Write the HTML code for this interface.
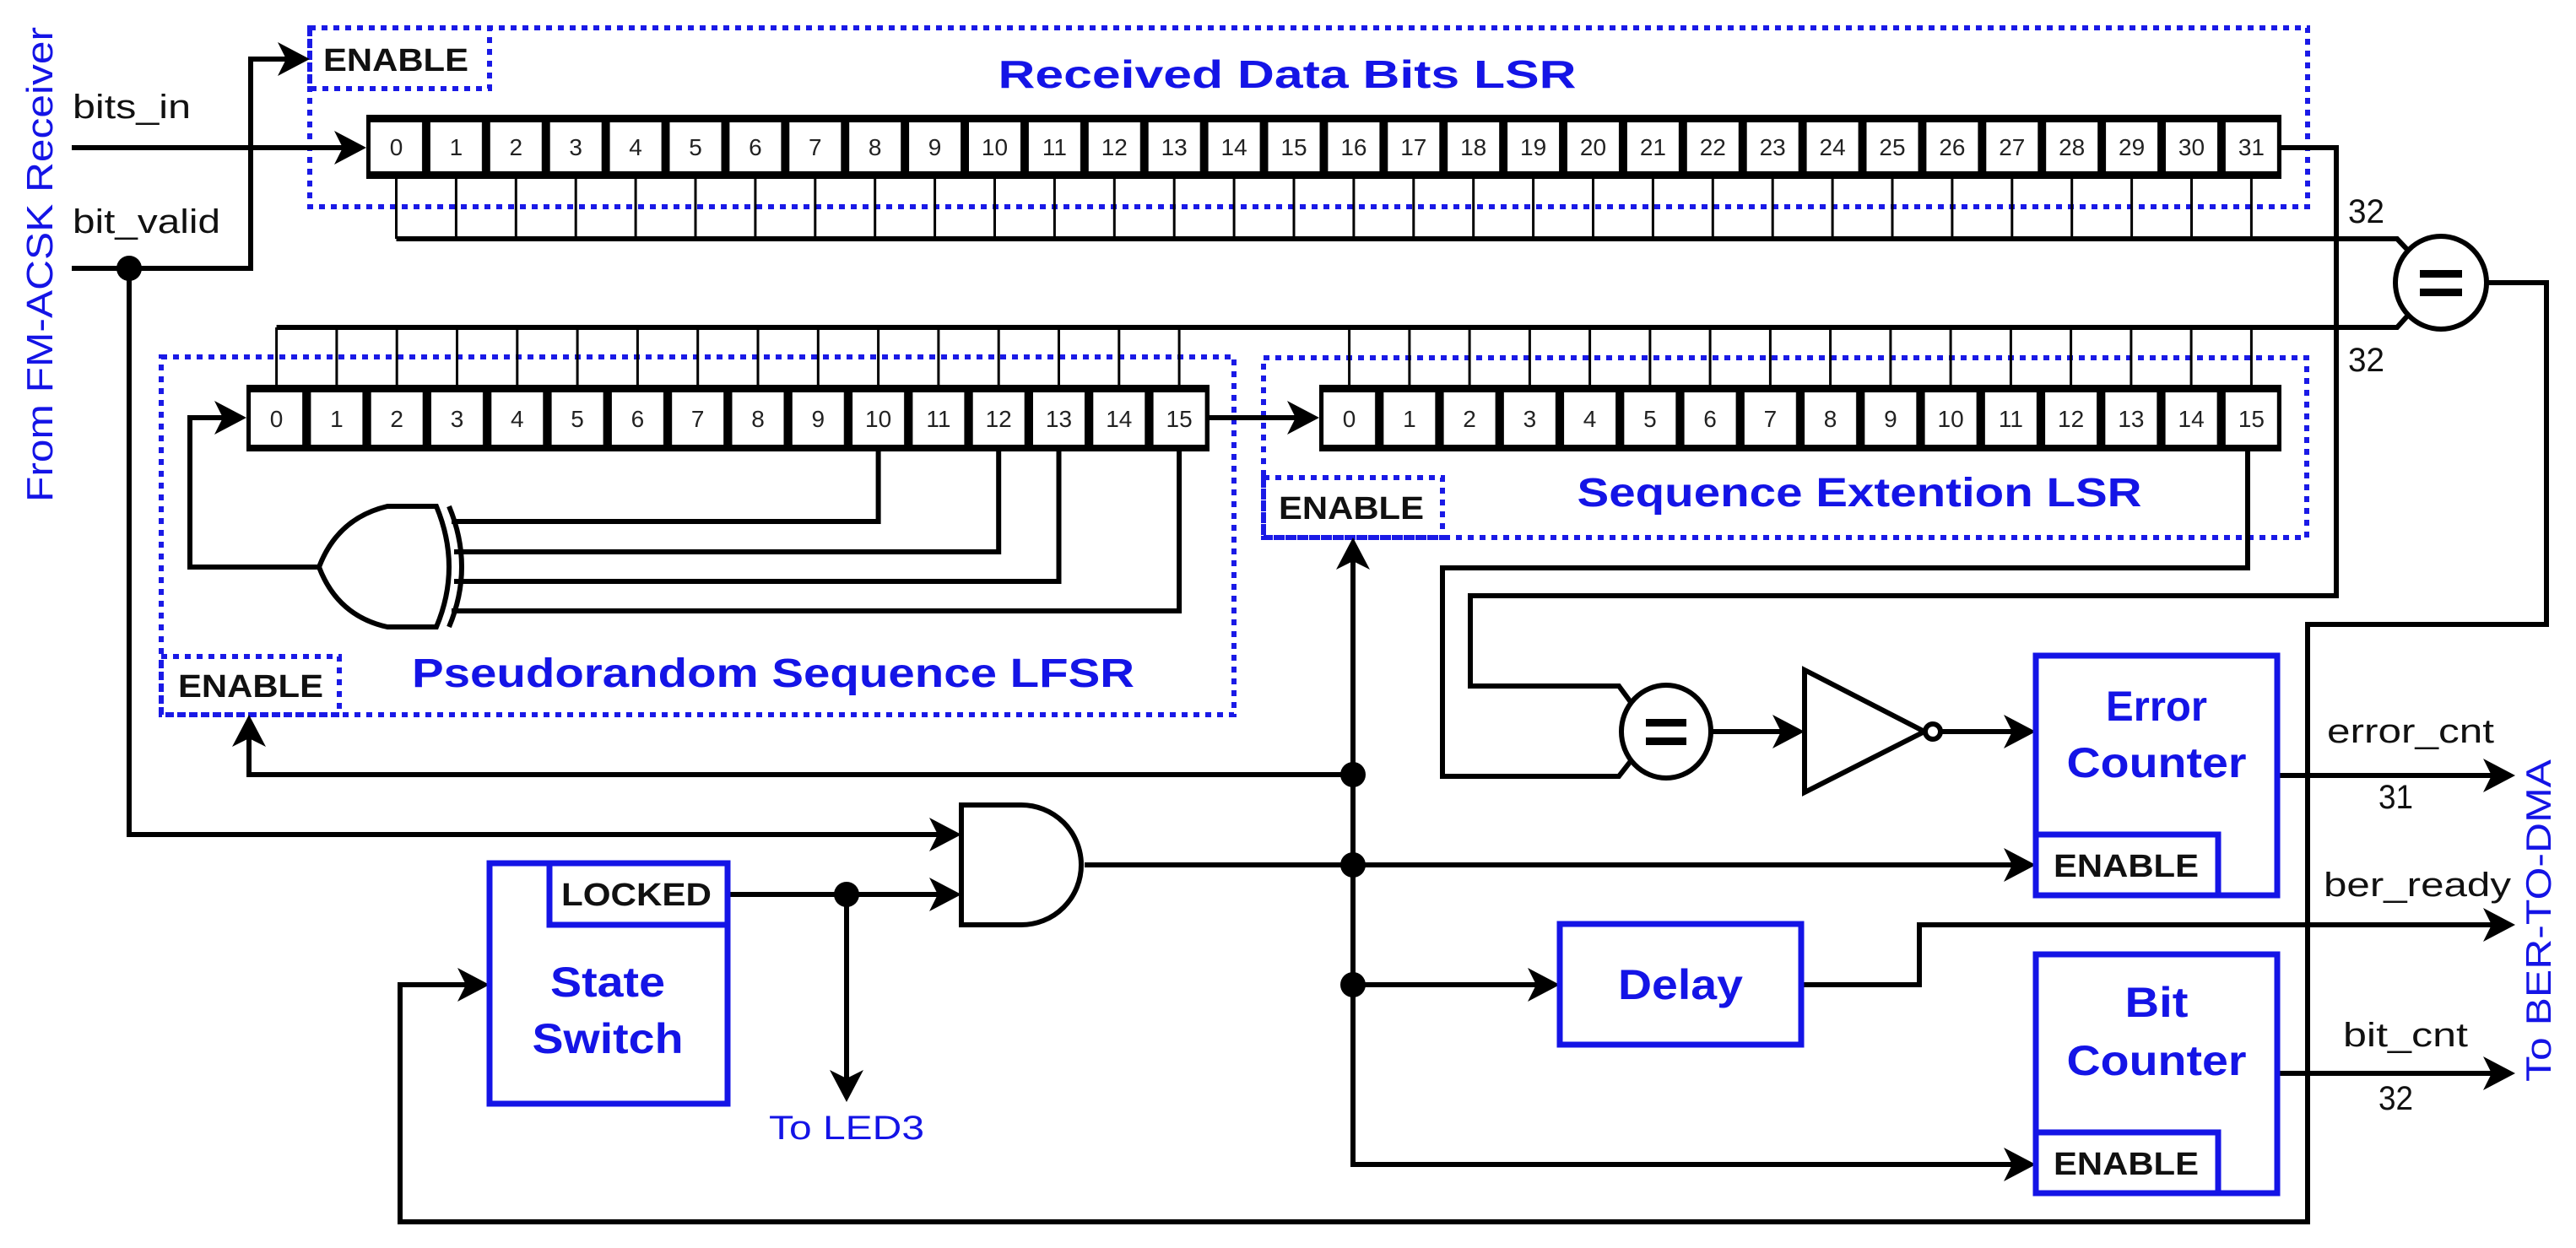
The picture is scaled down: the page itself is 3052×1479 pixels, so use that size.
<!DOCTYPE html>
<html><head><meta charset="utf-8"><style>html,body{margin:0;padding:0;background:#fff}svg{display:block}</style></head>
<body>
<svg xmlns="http://www.w3.org/2000/svg" width="3052" height="1479" viewBox="0 0 3052 1479" font-family="Liberation Sans, Arial, sans-serif">
<defs>
<pattern id="p1" patternUnits="userSpaceOnUse" x="439" y="0" width="70.9" height="1479"><rect x="0" y="0" width="61" height="1479" fill="#fff"/></pattern>
<pattern id="p2" patternUnits="userSpaceOnUse" x="297.1" y="0" width="71.3" height="1479"><rect x="0" y="0" width="61" height="1479" fill="#fff"/></pattern>
<pattern id="p3" patternUnits="userSpaceOnUse" x="1568.1" y="0" width="71.25" height="1479"><rect x="0" y="0" width="61" height="1479" fill="#fff"/></pattern>
</defs>
<rect width="3052" height="1479" fill="#fff"/>

<!-- dotted boxes -->
<g fill="none" stroke="#1a1ae6" stroke-width="6" stroke-dasharray="7 7">
<rect x="367" y="33" width="2367" height="212"/>
<rect x="367" y="33" width="213" height="72"/>
<rect x="191" y="423" width="1271" height="424"/>
<rect x="191" y="778" width="211" height="69"/>
<rect x="1497" y="424" width="1236" height="213"/>
<rect x="1497" y="566" width="212" height="71"/>
</g>

<!-- tap lines -->
<g stroke="#000" stroke-width="3" fill="none">
<path d="M469.5 212V283M540.4 212V283M611.3 212V283M682.2 212V283M753.1 212V283M824 212V283M894.9 212V283M965.8 212V283M1036.7 212V283M1107.6 212V283M1178.5 212V283M1249.4 212V283M1320.3 212V283M1391.2 212V283M1462.1 212V283M1533 212V283M1603.9 212V283M1674.8 212V283M1745.7 212V283M1816.6 212V283M1887.5 212V283M1958.4 212V283M2029.3 212V283M2100.2 212V283M2171.1 212V283M2242 212V283M2312.9 212V283M2383.8 212V283M2454.7 212V283M2525.6 212V283M2596.5 212V283M2667.4 212V283"/>
<path d="M327.6 388V456M398.9 388V456M470.2 388V456M541.5 388V456M612.8 388V456M684.1 388V456M755.4 388V456M826.7 388V456M898 388V456M969.3 388V456M1040.6 388V456M1111.9 388V456M1183.2 388V456M1254.5 388V456M1325.8 388V456M1397.1 388V456"/>
<path d="M1598.6 388V456M1669.9 388V456M1741.1 388V456M1812.4 388V456M1883.6 388V456M1954.9 388V456M2026.1 388V456M2097.4 388V456M2168.6 388V456M2239.9 388V456M2311.1 388V456M2382.4 388V456M2453.6 388V456M2524.9 388V456M2596.1 388V456M2667.4 388V456"/>
</g>

<!-- wires -->
<g stroke="#000" stroke-width="6" fill="none" stroke-linejoin="miter">
<path d="M469.5 283H2840L2858 302"/>
<path d="M327.6 388H2840L2858 368"/>
<path d="M85 175H410"/>
<path d="M85 318H297V70H340"/>
<path d="M2703 175H2768V706H1742V813H1918L1932 832"/>
<path d="M2663 535V673H1709V920H1918L1932 902"/>
<path d="M378 672H225V495H270"/>
<path d="M1433 495H1540"/>
<path d="M1040.6 535V618H535M1183.2 535V654H538M1254.5 535V689H538M1397.1 535V724H535"/>
<path d="M1603 665V1380H2390"/>
<path d="M1603 918H295V870"/>
<path d="M153 318V989H1115"/>
<path d="M862 1060H1115M1003 1060V1285"/>
<path d="M1285 1025H2390"/>
<path d="M1603 1167H1825"/>
<path d="M2134 1167H2274V1096H2955"/>
<path d="M2698 919H2955"/>
<path d="M2698 1272H2955"/>
<path d="M2028 867H2115"/>
<path d="M2299 867H2390"/>
<path d="M2946 335H3017V740H2734V1448H474V1167H555"/>
</g>

<!-- registers -->
<rect x="434" y="136" width="2269" height="76" fill="#000"/>
<rect x="439" y="145" width="2259" height="58" fill="url(#p1)"/>
<rect x="292" y="456" width="1141" height="79" fill="#000"/>
<rect x="297" y="465" width="1131" height="62" fill="url(#p2)"/>
<rect x="1563" y="456" width="1140" height="79" fill="#000"/>
<rect x="1568" y="465" width="1130" height="62" fill="url(#p3)"/>

<g font-size="28" text-anchor="middle" fill="#222">
<text x="469.5" y="184">0</text><text x="540.4" y="184">1</text><text x="611.3" y="184">2</text><text x="682.2" y="184">3</text><text x="753.1" y="184">4</text><text x="824" y="184">5</text><text x="894.9" y="184">6</text><text x="965.8" y="184">7</text><text x="1036.7" y="184">8</text><text x="1107.6" y="184">9</text><text x="1178.5" y="184">10</text><text x="1249.4" y="184">11</text><text x="1320.3" y="184">12</text><text x="1391.2" y="184">13</text><text x="1462.1" y="184">14</text><text x="1533" y="184">15</text><text x="1603.9" y="184">16</text><text x="1674.8" y="184">17</text><text x="1745.7" y="184">18</text><text x="1816.6" y="184">19</text><text x="1887.5" y="184">20</text><text x="1958.4" y="184">21</text><text x="2029.3" y="184">22</text><text x="2100.2" y="184">23</text><text x="2171.1" y="184">24</text><text x="2242" y="184">25</text><text x="2312.9" y="184">26</text><text x="2383.8" y="184">27</text><text x="2454.7" y="184">28</text><text x="2525.6" y="184">29</text><text x="2596.5" y="184">30</text><text x="2667.4" y="184">31</text>
<text x="327.6" y="506">0</text><text x="398.9" y="506">1</text><text x="470.2" y="506">2</text><text x="541.5" y="506">3</text><text x="612.8" y="506">4</text><text x="684.1" y="506">5</text><text x="755.4" y="506">6</text><text x="826.7" y="506">7</text><text x="898" y="506">8</text><text x="969.3" y="506">9</text><text x="1040.6" y="506">10</text><text x="1111.9" y="506">11</text><text x="1183.2" y="506">12</text><text x="1254.5" y="506">13</text><text x="1325.8" y="506">14</text><text x="1397.1" y="506">15</text>
<text x="1598.6" y="506">0</text><text x="1669.9" y="506">1</text><text x="1741.1" y="506">2</text><text x="1812.4" y="506">3</text><text x="1883.6" y="506">4</text><text x="1954.9" y="506">5</text><text x="2026.1" y="506">6</text><text x="2097.4" y="506">7</text><text x="2168.6" y="506">8</text><text x="2239.9" y="506">9</text><text x="2311.1" y="506">10</text><text x="2382.4" y="506">11</text><text x="2453.6" y="506">12</text><text x="2524.9" y="506">13</text><text x="2596.1" y="506">14</text><text x="2667.4" y="506">15</text>
</g>

<!-- XOR gate -->
<g stroke="#000" stroke-width="6" fill="#fff">
<path d="M459 600H517Q547 672 517 743H459Q400 730 378 672Q400 614 459 600Z"/>
<path d="M532 600Q562 672 532 743" fill="none"/>
</g>

<!-- comparators -->
<g stroke="#000" stroke-width="6" fill="#fff">
<ellipse cx="2892" cy="335" rx="54" ry="55"/>
<ellipse cx="1974" cy="867" rx="53" ry="55"/>
<path d="M1163 954H1210A71 71 0 0 1 1210 1096H1139V954Z"/>
<polygon points="2138,794 2280,867 2138,939"/>
<circle cx="2290" cy="867" r="9"/>
</g>
<g fill="#000">
<rect x="2867" y="320" width="50" height="9"/><rect x="2867" y="342" width="50" height="9"/>
<rect x="1950" y="852" width="48" height="9"/><rect x="1950" y="874" width="48" height="9"/>
</g>

<!-- arrowheads -->
<g fill="#000">
<polygon points="367,70 329,50 339,70 329,90"/>
<polygon points="434,175 396,155 406,175 396,195"/>
<polygon points="292,495 254,475 264,495 254,515"/>
<polygon points="1563,495 1525,475 1535,495 1525,515"/>
<polygon points="1603,637 1583,675 1603,665 1623,675"/>
<polygon points="295,847 275,885 295,875 315,885"/>
<polygon points="2412,1380 2374,1360 2384,1380 2374,1400"/>
<polygon points="1139,989 1101,969 1111,989 1101,1009"/>
<polygon points="1139,1060 1101,1040 1111,1060 1101,1080"/>
<polygon points="1003,1306 983,1268 1003,1278 1023,1268"/>
<polygon points="2412,1025 2374,1005 2384,1025 2374,1045"/>
<polygon points="1848,1167 1810,1147 1820,1167 1810,1187"/>
<polygon points="2980,1096 2942,1076 2952,1096 2942,1116"/>
<polygon points="2980,919 2942,899 2952,919 2942,939"/>
<polygon points="2980,1272 2942,1252 2952,1272 2942,1292"/>
<polygon points="2138,867 2100,847 2110,867 2100,887"/>
<polygon points="2412,867 2374,847 2384,867 2374,887"/>
<polygon points="580,1167 542,1147 552,1167 542,1187"/>
<circle cx="153" cy="318" r="15"/>
<circle cx="1603" cy="918" r="15"/>
<circle cx="1603" cy="1025" r="15"/>
<circle cx="1603" cy="1167" r="15"/>
<circle cx="1003" cy="1060" r="15"/>
</g>

<!-- blue blocks -->
<g fill="none" stroke="#1414e6" stroke-width="7">
<rect x="2412" y="777" width="286" height="284"/>
<rect x="2412" y="989" width="216" height="72"/>
<rect x="2412" y="1131" width="286" height="283"/>
<rect x="2412" y="1342" width="216" height="72"/>
<rect x="1848" y="1095" width="286" height="143"/>
<rect x="580" y="1023" width="282" height="285"/>
<rect x="651" y="1023" width="211" height="73"/>
</g>

<!-- black bold labels -->
<g font-weight="bold" font-size="38" fill="#111" text-anchor="middle">
<text x="469" y="84" textLength="172" lengthAdjust="spacingAndGlyphs">ENABLE</text>
<text x="297" y="826" textLength="172" lengthAdjust="spacingAndGlyphs">ENABLE</text>
<text x="1601" y="615" textLength="172" lengthAdjust="spacingAndGlyphs">ENABLE</text>
<text x="2519" y="1039" textLength="172" lengthAdjust="spacingAndGlyphs">ENABLE</text>
<text x="2519" y="1392" textLength="172" lengthAdjust="spacingAndGlyphs">ENABLE</text>
<text x="754" y="1073" textLength="178" lengthAdjust="spacingAndGlyphs">LOCKED</text>
</g>

<!-- blue bold titles -->
<g font-weight="bold" fill="#1414e6" text-anchor="middle">
<text x="1525" y="104" font-size="46" textLength="685" lengthAdjust="spacingAndGlyphs">Received Data Bits LSR</text>
<text x="916" y="814" font-size="48" textLength="856" lengthAdjust="spacingAndGlyphs">Pseudorandom Sequence LFSR</text>
<text x="2203" y="600" font-size="48" textLength="669" lengthAdjust="spacingAndGlyphs">Sequence Extention LSR</text>
<text x="2555" y="854" font-size="50" textLength="120" lengthAdjust="spacingAndGlyphs">Error</text>
<text x="2555" y="921" font-size="50" textLength="213" lengthAdjust="spacingAndGlyphs">Counter</text>
<text x="2555" y="1205" font-size="50" textLength="75" lengthAdjust="spacingAndGlyphs">Bit</text>
<text x="2555" y="1274" font-size="50" textLength="213" lengthAdjust="spacingAndGlyphs">Counter</text>
<text x="1991" y="1184" font-size="50" textLength="148" lengthAdjust="spacingAndGlyphs">Delay</text>
<text x="720" y="1181" font-size="50" textLength="136" lengthAdjust="spacingAndGlyphs">State</text>
<text x="720" y="1248" font-size="50" textLength="179" lengthAdjust="spacingAndGlyphs">Switch</text>
</g>

<!-- black regular labels -->
<g font-size="40" fill="#111">
<text x="86" y="140" textLength="140" lengthAdjust="spacingAndGlyphs">bits_in</text>
<text x="86" y="276" textLength="175" lengthAdjust="spacingAndGlyphs">bit_valid</text>
<text x="2782" y="264" textLength="43" lengthAdjust="spacingAndGlyphs">32</text>
<text x="2782" y="440" textLength="43" lengthAdjust="spacingAndGlyphs">32</text>
<text x="2757" y="880" textLength="198" lengthAdjust="spacingAndGlyphs">error_cnt</text>
<text x="2818" y="958" textLength="41" lengthAdjust="spacingAndGlyphs">31</text>
<text x="2753" y="1062" textLength="222" lengthAdjust="spacingAndGlyphs">ber_ready</text>
<text x="2776" y="1240" textLength="148" lengthAdjust="spacingAndGlyphs">bit_cnt</text>
<text x="2818" y="1315" textLength="41" lengthAdjust="spacingAndGlyphs">32</text>
</g>

<!-- blue regular labels -->
<g font-size="40" fill="#1414e6">
<text x="911" y="1350" textLength="184" lengthAdjust="spacingAndGlyphs">To LED3</text>
<text transform="translate(62,595) rotate(-90)" font-size="44" textLength="563" lengthAdjust="spacingAndGlyphs">From FM-ACSK Receiver</text>
<text transform="translate(3022,1282) rotate(-90)" font-size="42" textLength="382" lengthAdjust="spacingAndGlyphs">To BER-TO-DMA</text>
</g>
</svg>
</body></html>
